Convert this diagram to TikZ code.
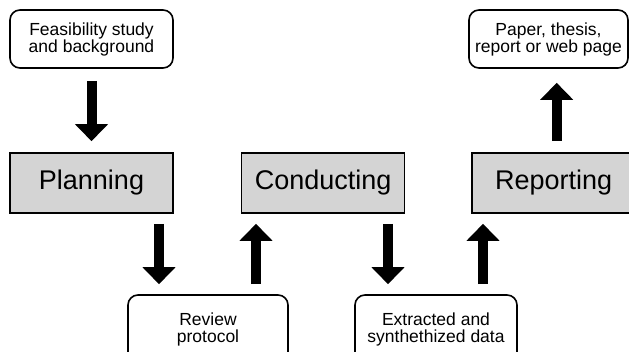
\documentclass[tikz,border=0pt]{standalone}
\usepackage{fontspec}
\setmainfont{Liberation Sans}
\usetikzlibrary{positioning,arrows.meta}
\definecolor{boxgray}{RGB}{212,212,212}
\tikzstyle{stage} = [draw, line width=1.6pt, fill=boxgray, minimum width=163pt, minimum height=60pt, font=\fontsize{27}{30}\selectfont]
\tikzstyle{doc} = [draw, line width=1.6pt, rounded corners=10pt, minimum height=58pt, align=center, font=\fontsize{17.5}{17}\selectfont]
\tikzstyle{flow} = [line width=10pt, -{Triangle[width=32pt,length=17pt]}]

\begin{document}
\begin{tikzpicture}[x=1pt, y=1pt, node distance=67pt]
    \useasboundingbox (0,0) rectangle (629,-351);
    \node[stage] (plan) at (91.5,-183) {Planning};
    \node[stage, right=of plan] (cond) {Conducting};
    \node[stage, right=66pt of cond] (rep) {Reporting};
    \node[doc, minimum width=163pt] (feas) at (91.5,-39) {Feasibility study\\and background};
    \node[doc, minimum width=159pt] (pap) at (548.5,-39) {Paper, thesis,\\report or web page};
    \node[doc, minimum width=160pt, minimum height=68pt] (prot) at (208,-329) {Review\\protocol};
    \node[doc, minimum width=162pt, minimum height=68pt] (data) at (436,-329) {Extracted and\\synthethized data};
    \draw[flow, shorten <=12pt, shorten >=11pt] (feas) -- (plan);
    \draw[flow, shorten <=10pt, shorten >=10pt]
      ([xshift=-49pt]prot.north |- plan.south) -- ([xshift=-49pt]prot.north);
    \draw[flow, shorten <=10pt, shorten >=10pt]
      ([xshift=48pt]prot.north) -- ([xshift=48pt]prot.north |- cond.south);
    \draw[flow, shorten <=10pt, shorten >=10pt]
      ([xshift=-48pt]data.north |- cond.south) -- ([xshift=-48pt]data.north);
    \draw[flow, shorten <=10pt, shorten >=10pt]
      ([xshift=47pt]data.north) -- ([xshift=47pt]data.north |- rep.south);
    \draw[flow, shorten <=11pt, shorten >=14pt] ([xshift=3pt]rep.north) -- ([xshift=3pt]pap.south -| rep.north);
\end{tikzpicture}
\end{document}
